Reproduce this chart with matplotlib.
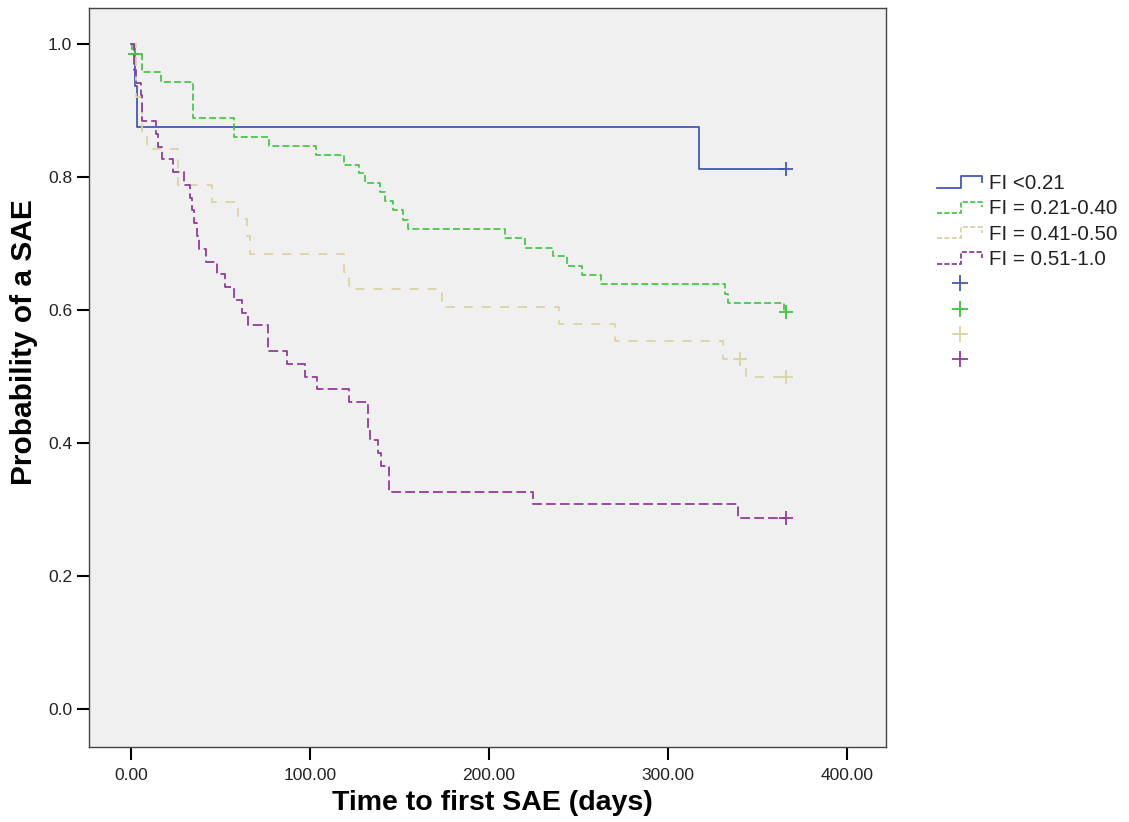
import matplotlib
matplotlib.use("Agg")
import matplotlib.pyplot as plt
from matplotlib.lines import Line2D
from matplotlib.legend_handler import HandlerBase

# ---------------- data ----------------
groups = ["FI <0.21", "FI = 0.21-0.40", "FI = 0.41-0.50", "FI = 0.51-1.0"]

blue_t = [0, 2.2, 3.2, 317.7, 366]
blue_s = [1.0, 0.9375, 0.875, 0.8125, 0.8125]
blue_ct = [366]
blue_cs = [0.8125]

green_t = [0, 0.5, 6.3, 16.6, 34.7, 57.6, 77.1, 103.4, 119.0, 127.4, 130.8,
           139.2, 142.0, 146.5, 152.0, 154.8, 209.0, 220.2, 235.9, 243.7,
           252.1, 262.7, 332.0, 333.7, 365.0, 366]
green_s = [1.0, 0.986, 0.958, 0.944, 0.889, 0.861, 0.847, 0.833, 0.819, 0.806,
           0.792, 0.778, 0.764, 0.750, 0.736, 0.722, 0.708, 0.694, 0.681, 0.667,
           0.653, 0.639, 0.625, 0.611, 0.597, 0.597]
green_ct = [2.2, 366]
green_cs = [0.986, 0.597]

tan_t = [0, 2.5, 6.3, 8.8, 26.3, 45.3, 59.8, 64.7, 66.5, 119.0, 122.0, 173.8,
         239.2, 270.5, 331.0, 343.8, 366]
tan_s = [1.0, 0.921, 0.868, 0.842, 0.789, 0.763, 0.737, 0.711, 0.684, 0.658,
         0.632, 0.605, 0.579, 0.553, 0.526, 0.500, 0.500]
tan_ct = [340.4, 366]
tan_cs = [0.526, 0.500]

purple_t = [0, 1.4, 2.8, 5.4, 6.3, 13.8, 14.9, 17.2, 23.6, 29.8, 33.0, 34.1,
            35.2, 37.1, 38.0, 41.8, 47.9, 52.5, 57.7, 62.2, 65.2, 76.3, 87.0,
            97.3, 103.8, 122.0, 132.3, 133.6, 138.2, 139.6, 144.2, 224.7,
            339.4, 366]
purple_s = [1.0, 0.962, 0.942, 0.923, 0.885, 0.865, 0.846, 0.827, 0.808, 0.788,
            0.769, 0.750, 0.731, 0.712, 0.692, 0.673, 0.654, 0.635, 0.615, 0.596,
            0.577, 0.538, 0.519, 0.500, 0.481, 0.462, 0.423, 0.404, 0.385, 0.365,
            0.327, 0.308, 0.288, 0.288]
purple_ct = [366]
purple_cs = [0.288]

x_ticks = [0, 100, 200, 300, 400]
x_ticklabels = ["0.00", "100.00", "200.00", "300.00", "400.00"]
y_ticks = [0.0, 0.2, 0.4, 0.6, 0.8, 1.0]
y_ticklabels = ["0.0", "0.2", "0.4", "0.6", "0.8", "1.0"]

# ---------------- style ----------------
plt.rcParams["font.family"] = ["Liberation Sans", "DejaVu Sans"]
plt.rcParams["lines.scale_dashes"] = False

colors = ["#4459b8", "#3cc43c", "#d9d4a4", "#923c98"]
styles = ["-", (0, (5.0, 2.3)), (0, (6.5, 6.5)), (0, (7.0, 3.0))]
widths = [1.3, 1.2, 1.3, 1.3]

series = [
    (blue_t, blue_s, blue_ct, blue_cs),
    (green_t, green_s, green_ct, green_cs),
    (tan_t, tan_s, tan_ct, tan_cs),
    (purple_t, purple_s, purple_ct, purple_cs),
]

fig = plt.figure(figsize=(11.29, 8.22), dpi=100)
ax = fig.add_axes([89 / 1129, 1 - 747 / 822, (886 - 89) / 1129, (747 - 8) / 822])
ax.set_facecolor("#f0f0f0")

line_handles = []
cens_handles = []
for (t, s, ct, cs), c, ls, lw in zip(series, colors, styles, widths):
    ln, = ax.step(t, s, where="post", color=c, linestyle=ls, linewidth=lw)
    ax.plot(ct, cs, linestyle="none", marker="+", markersize=10,
            markeredgewidth=1.3, color=c)
    line_handles.append(ln)
    cens_handles.append(Line2D([], [], linestyle="none", marker="+",
                               markersize=11, markeredgewidth=1.3, color=c))

ax.set_xlim(-23.5, 422.0)
ax.set_ylim(-0.0572, 1.0546)
ax.set_xticks(x_ticks)
ax.set_xticklabels(x_ticklabels)
ax.set_yticks(y_ticks)
ax.set_yticklabels(y_ticklabels)
ax.tick_params(axis="both", direction="out", length=9, width=1.5,
               color="black", labelsize=12.5, labelcolor="#222222")
ax.tick_params(axis="x", pad=6)
ax.tick_params(axis="y", pad=3)
for sp in ax.spines.values():
    sp.set_color("#444444")
    sp.set_linewidth(1.0)

ax.set_xlabel("Time to first SAE (days)", fontsize=20.5, fontweight="bold")
ax.set_ylabel("Probability of a SAE", fontsize=21.5, fontweight="bold")
ax.xaxis.set_label_coords(0.506, -0.058)
ax.yaxis.set_label_coords(-0.064, 0.548)


class StepHandler(HandlerBase):
    def create_artists(self, legend, orig_handle, xdescent, ydescent,
                       width, height, fontsize, trans):
        x0 = -xdescent
        y0 = -ydescent
        xs = [x0, x0 + 0.53 * width, x0 + 0.53 * width, x0 + width, x0 + width]
        ys = [y0 + 0.1 * height, y0 + 0.1 * height, y0 + 0.88 * height,
              y0 + 0.88 * height, y0 + 0.5 * height]
        ln = Line2D(xs, ys, color=orig_handle.get_color(),
                    linestyle=orig_handle.get_linestyle(),
                    linewidth=orig_handle.get_linewidth())
        ln.set_transform(trans)
        return [ln]


handler_map = {h: StepHandler() for h in line_handles}
leg = fig.legend(line_handles + cens_handles, groups + [""] * 4,
                 loc="upper left", bbox_to_anchor=(937 / 1129, 1 - 174 / 822),
                 frameon=False, fontsize=14.8, handlelength=2.2,
                 handletextpad=0.35, labelspacing=0.31, borderpad=0,
                 borderaxespad=0, handler_map=handler_map)
for txt in leg.get_texts():
    txt.set_color("#222222")

fig.savefig("out.png", dpi=100)
